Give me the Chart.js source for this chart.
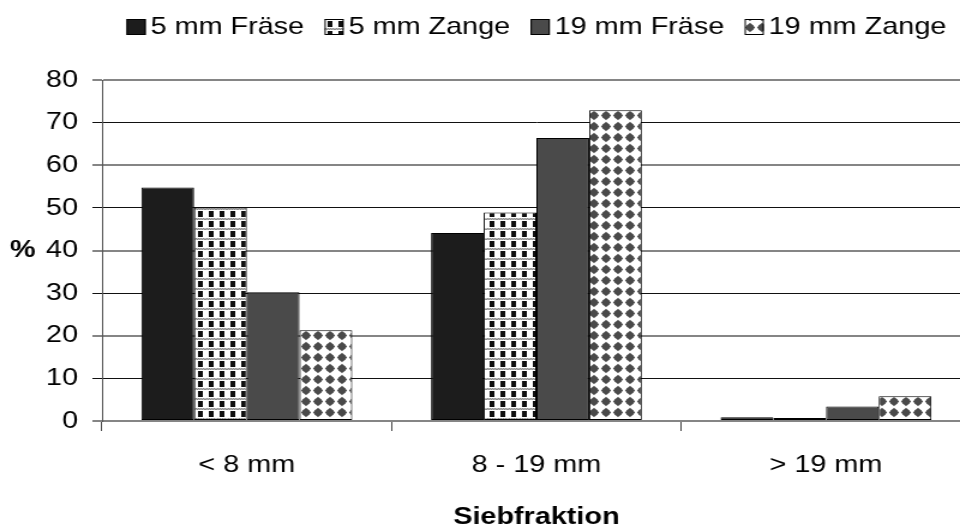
<!DOCTYPE html>
<html>
<head>
<meta charset="utf-8">
<script src="https://cdn.jsdelivr.net/npm/chart.js@4"></script>
<style>
  html, body { margin: 0; padding: 0; background: #fff; overflow: hidden; }
  #wrap { width: 810px; height: 529px; transform: scaleX(1.2); transform-origin: 0 0; }
  canvas { display: block; }
</style>
</head>
<body>
<div id="wrap"><canvas id="chart" width="810" height="529"></canvas></div>
<script>
// Sieve fractions and share of material (%) per tool and chip size
const categories = ['< 8 mm', '8 - 19 mm', '> 19 mm'];
const seriesNames = ['5 mm Fräse', '5 mm Zange', '19 mm Fräse', '19 mm Zange'];
const fraese5 = [54.8, 44.1, 0.9];
const zange5 = [50.1, 48.9, 0.7];
const fraese19 = [30.2, 66.4, 3.4];
const zange19 = [21.3, 72.9, 5.8];
const yTicks = [0, 10, 20, 30, 40, 50, 60, 70, 80];
const xTitle = 'Siebfraktion';
const yTitle = '%';

const FONT = '"Liberation Sans", Arial, sans-serif';
const canvas = document.getElementById('chart');
const ctx = canvas.getContext('2d');

// Fill patterns for the "Zange" series
function makeTile(w, h, draw) {
  const c = document.createElement('canvas');
  c.width = w; c.height = h;
  const t = c.getContext('2d');
  t.fillStyle = '#fff';
  t.fillRect(0, 0, w, h);
  draw(t);
  return ctx.createPattern(c, 'repeat');
}

// trellis: black dashes over a dotted grey band
const trellis = makeTile(9, 10, t => {
  t.fillStyle = '#111';
  t.fillRect(3, 1, 4, 6);
  for (let x = 0; x < 9; x++) {
    t.fillStyle = (x % 2) ? '#8c8c8c' : '#bdbdbd';
    t.fillRect(x, 8, 1, 1);
    t.fillStyle = (x % 2) ? '#bdbdbd' : '#8c8c8c';
    t.fillRect(x, 9, 1, 1);
  }
});

// diamonds: rounded dark-grey diamonds on white
const diamonds = makeTile(10, 11, t => {
  t.fillStyle = '#4a4a4a';
  t.beginPath();
  t.moveTo(5, 0.8);
  t.lineTo(9.2, 5.5);
  t.lineTo(5, 10.2);
  t.lineTo(0.8, 5.5);
  t.closePath();
  t.fill();
  t.beginPath();
  t.arc(5, 5.5, 3.2, 0, Math.PI * 2);
  t.fill();
});

const fills = ['#1c1c1c', trellis, '#4a4a4a', diamonds];
const values = [fraese5, zange5, fraese19, zange19];

// Legend drawn in a single row above the plot
const topLegend = {
  id: 'topLegend',
  afterDraw(chart) {
    const c = chart.ctx;
    const area = chart.chartArea;
    const box = 16, gap = 4, spacing = 17;
    c.save();
    c.font = '24px ' + FONT;
    const widths = chart.data.datasets.map(d => c.measureText(d.label).width);
    const total = widths.reduce((a, w) => a + box + gap + w, 0) + spacing * (widths.length - 1);
    let x = (area.left + area.right) / 2 - total / 2;
    const yc = 27;
    chart.data.datasets.forEach((d, i) => {
      c.fillStyle = d.backgroundColor;
      c.fillRect(x, yc - box / 2, box, box);
      c.strokeStyle = '#000';
      c.lineWidth = 1;
      c.strokeRect(x + 0.5, yc - box / 2 + 0.5, box - 1, box - 1);
      x += box + gap;
      c.fillStyle = '#000';
      c.textAlign = 'left';
      c.textBaseline = 'middle';
      c.fillText(d.label, x, yc);
      x += widths[i] + spacing;
    });
    c.restore();
  }
};

// Horizontal "%" axis caption at the left of the plot
const yCaption = {
  id: 'yCaption',
  afterDraw(chart) {
    const c = chart.ctx;
    const area = chart.chartArea;
    c.save();
    c.font = 'bold 24px ' + FONT;
    c.fillStyle = '#000';
    c.textAlign = 'center';
    c.textBaseline = 'middle';
    c.fillText(yTitle, 19, (area.top + area.bottom) / 2);
    c.restore();
  }
};

new Chart(canvas, {
  type: 'bar',
  data: {
    labels: categories,
    datasets: seriesNames.map((name, i) => ({
      label: name,
      data: values[i],
      backgroundColor: fills[i],
      borderColor: '#000',
      borderWidth: 1,
      borderSkipped: false,
      categoryPercentage: 0.728,
      barPercentage: 1.0
    }))
  },
  options: {
    responsive: false,
    animation: false,
    devicePixelRatio: 1,
    layout: { padding: { top: 80, right: 1, bottom: 0, left: 0 } },
    plugins: {
      legend: { display: false },
      tooltip: { enabled: false }
    },
    scales: {
      x: {
        offset: true,
        grid: {
          offset: true,
          drawOnChartArea: false,
          drawTicks: true,
          tickLength: 10,
          color: '#444',
          lineWidth: 1
        },
        border: { display: false },
        ticks: {
          color: '#000',
          font: { family: FONT, size: 24 },
          padding: 20,
          maxRotation: 0
        },
        title: {
          display: true,
          text: xTitle,
          color: '#000',
          font: { family: FONT, size: 24, weight: 'bold', lineHeight: 1 },
          padding: { top: 0, bottom: 0 }
        },
        afterFit(scale) { scale.height = 108; }
      },
      y: {
        min: 0,
        max: 80,
        afterBuildTicks(scale) { scale.ticks = yTicks.map(v => ({ value: v })); },
        grid: {
          color: c => (c.tick && c.tick.value % 20 === 0) ? '#858585' : '#111',
          lineWidth: c => (c.tick && c.tick.value % 20 === 0) ? 2 : 1,
          tickLength: 8,
          drawTicks: true
        },
        border: { display: true, color: '#555', width: 1 },
        ticks: {
          color: '#000',
          font: { family: FONT, size: 24 },
          padding: 12
        },
        afterFit(scale) { scale.width = 85; }
      }
    }
  },
  plugins: [topLegend, yCaption]
});
</script>
</body>
</html>
